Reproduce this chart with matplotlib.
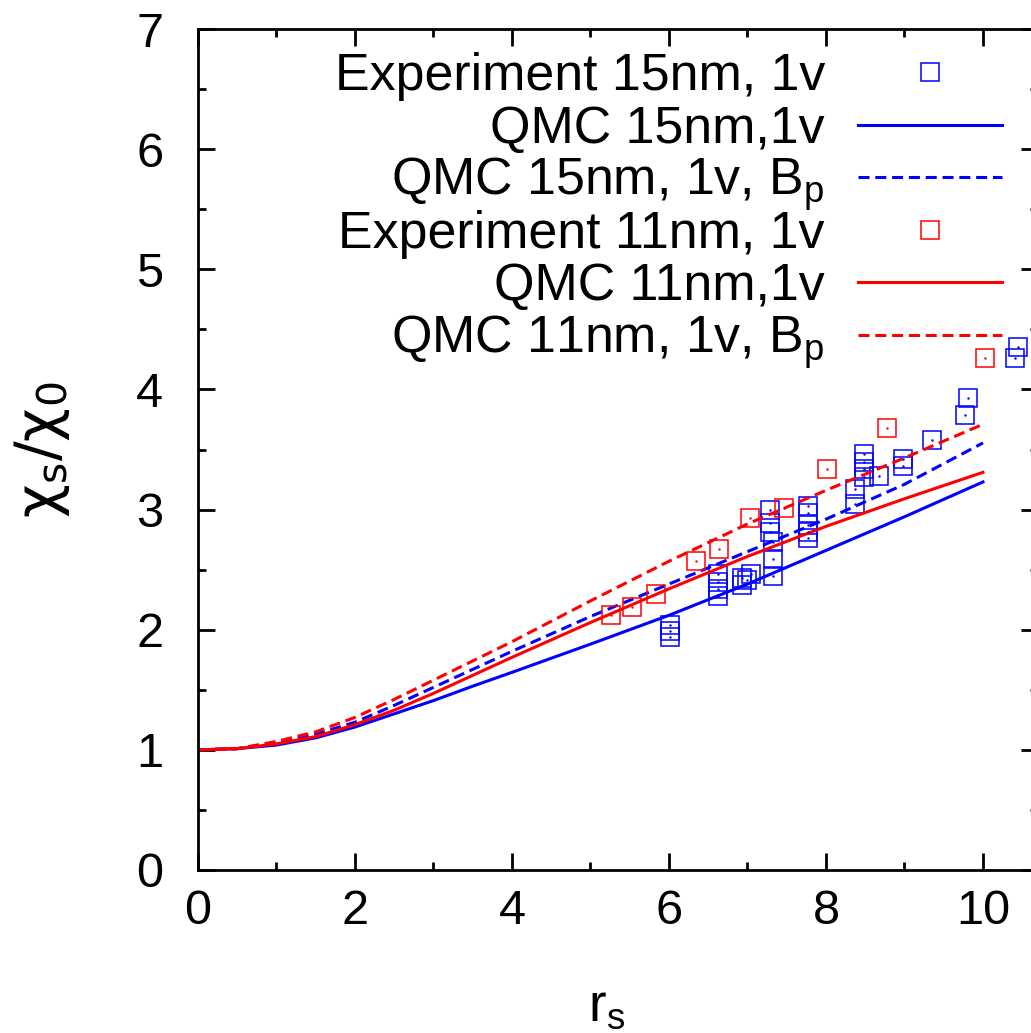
import numpy as np
import matplotlib
matplotlib.use('Agg')
import matplotlib.pyplot as plt
from matplotlib.ticker import MultipleLocator

plt.rcParams['font.family'] = ['Liberation Sans', 'DejaVu Sans']
plt.rcParams['mathtext.default'] = 'regular'

# QMC curves (r_s vs chi_s/chi_0)
rs_qmc = [0, 0.5, 1, 1.5, 2, 2.5, 3, 3.5, 4, 5, 6, 7, 8, 9, 10]
qmc15 = [1.00, 1.01, 1.04, 1.10, 1.19, 1.30, 1.41, 1.53, 1.645, 1.88, 2.12, 2.38, 2.66, 2.94, 3.23]
qmc15_bp = [1.00, 1.01, 1.06, 1.13, 1.23, 1.37, 1.52, 1.67, 1.82, 2.11, 2.38, 2.65, 2.92, 3.21, 3.555]
qmc11 = [1.00, 1.01, 1.05, 1.11, 1.21, 1.33, 1.47, 1.62, 1.77, 2.06, 2.34, 2.61, 2.86, 3.09, 3.31]
qmc11_bp = [1.00, 1.01, 1.07, 1.15, 1.27, 1.42, 1.58, 1.74, 1.90, 2.24, 2.57, 2.88, 3.16, 3.43, 3.71]

# experiment 11nm
rs_exp11 = [5.26, 5.53, 5.84, 6.34, 6.64, 7.03, 7.46, 8.01, 8.78, 10.03]
chi_exp11 = [2.12, 2.19, 2.30, 2.57, 2.67, 2.93, 3.01, 3.34, 3.68, 4.26]

# experiment 15nm
rs_exp15 = [6.01, 6.01, 6.01, 6.62, 6.62, 6.62, 6.62, 6.93, 6.93, 7.00,
            7.04, 7.29, 7.29, 7.29, 7.33, 7.33, 7.33, 7.77, 7.77, 7.77,
            7.77, 7.77, 8.37, 8.37, 8.49, 8.49, 8.49, 8.49, 8.67, 8.98,
            8.98, 9.35, 9.77, 9.81, 10.41, 10.45]
chi_exp15 = [2.04, 1.99, 1.94, 2.46, 2.40, 2.34, 2.28, 2.43, 2.37, 2.41,
             2.46, 3.00, 2.89, 2.81, 2.73, 2.59, 2.45, 3.03, 2.97, 2.87,
             2.81, 2.76, 3.17, 3.05, 3.46, 3.40, 3.34, 3.27, 3.28, 3.42,
             3.36, 3.58, 3.79, 3.93, 4.26, 4.35]

labels = ['Experiment 15nm, 1v', 'QMC 15nm,1v', 'QMC 15nm, 1v, B$_p$',
          'Experiment 11nm, 1v', 'QMC 11nm,1v', 'QMC 11nm, 1v, B$_p$']

blue = '#0000ff'
red = '#ff0000'
dash = (0, (3.6, 1.9))
sq = dict(ls='none', marker='s', ms=12.5, mfc='none', mew=1.1)
styles = [dict(color=blue, **sq), dict(color=blue, lw=2.2), dict(color=blue, lw=2.2, ls=dash),
          dict(color=red, **sq), dict(color=red, lw=2.2), dict(color=red, lw=2.2, ls=dash)]

fig = plt.figure(figsize=(10.31, 10.33), dpi=100)
ax = fig.add_axes([0.192, 0.1578, 0.8147, 0.8141])

ax.plot(rs_exp15, chi_exp15, **styles[0])
ax.plot(rs_qmc, qmc15, **styles[1])
ax.plot(rs_qmc, qmc15_bp, **styles[2])
ax.plot(rs_exp11, chi_exp11, **styles[3])
ax.plot(rs_qmc, qmc11, **styles[4])
ax.plot(rs_qmc, qmc11_bp, **styles[5])

# tiny centre dots of the experimental points
ax.plot(rs_exp15, chi_exp15, ls='none', marker='.', ms=1.5, color=blue)
ax.plot(rs_exp11, chi_exp11, ls='none', marker='.', ms=1.5, color=red)

ax.set_xlim(0, 10.7)
ax.set_ylim(0, 7)
ax.xaxis.set_major_locator(MultipleLocator(2))
ax.xaxis.set_minor_locator(MultipleLocator(1))
ax.yaxis.set_major_locator(MultipleLocator(1))
ax.yaxis.set_minor_locator(MultipleLocator(0.5))
ax.tick_params(which='both', direction='in', top=True, right=True, width=2,
               labelsize=35)
ax.tick_params(axis='x', pad=14)
ax.tick_params(axis='y', pad=25)
ax.tick_params(which='major', length=12)
ax.tick_params(which='minor', length=6)
for s in ax.spines.values():
    s.set_linewidth(2)
    s.set_clip_on(False)

ax.set_xlabel('r$_s$', fontsize=38)
ax.xaxis.set_label_coords(0.487, -0.133)
ax.set_ylabel('χ$_s$/χ$_0$', fontsize=42, family=['DejaVu Sans'])
ax.yaxis.set_label_coords(-0.15, 0.5)

# gnuplot style key: text right-aligned, sample on the right, fixed row pitch
key_top = 1 - 43 / 841      # first row centre (axes fraction)
key_step = 52.5 / 841
for i, (lab, st) in enumerate(zip(labels, styles)):
    yk = key_top - i * key_step
    ax.text(0.7464, yk - 18 / 841, lab, transform=ax.transAxes, ha='right',
            va='baseline', fontsize=37.4)
    if st.get('marker'):
        ax.plot([0.8714], [yk], transform=ax.transAxes, clip_on=False, **st)
    else:
        ax.plot([0.7857, 0.9571], [yk, yk], transform=ax.transAxes, clip_on=False, **st)

fig.savefig('out.png', dpi=100)
